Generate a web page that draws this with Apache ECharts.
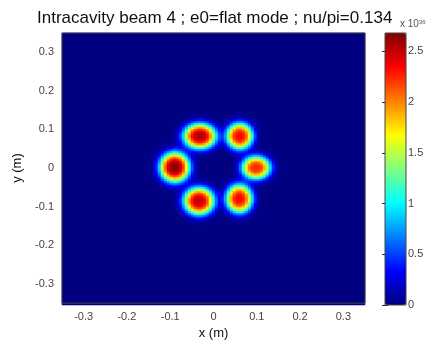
<!DOCTYPE html>
<html>
<head>
<meta charset="utf-8">
<script src="https://cdn.jsdelivr.net/npm/echarts@6/dist/echarts.min.js"></script>
<style>
  html, body { margin: 0; padding: 0; background: #fff; }
  #chart { width: 441px; height: 345px; }
</style>
</head>
<body>
<div id="chart"></div>
<script>
// beam spots: centre (m), peak (x 1e36), width in x and y (m)
const spotX = [-0.031, 0.061, -0.089, 0.099, -0.033, 0.060]
const spotY = [0.085, 0.085, 0.005, 0.004, -0.082, -0.076]
const spotPeak = [2.55, 2.35, 2.65, 2.25, 2.5, 2.35]
const spotSx = [0.027, 0.022, 0.0247, 0.024, 0.0254, 0.022]
const spotSy = [0.0234, 0.0245, 0.0276, 0.0216, 0.0255, 0.0265]
const spotOrder = 1.5 // flat-topped profile

const axisTicks = [-0.3, -0.2, -0.1, 0, 0.1, 0.2, 0.3]
const colorTicks = [0, 0.5, 1, 1.5, 2, 2.5]
const colorMax = 2.68
const jet = ['#000080', '#0000ff', '#0080ff', '#00ffff', '#80ff80', '#ffff00', '#ff8000', '#ff0000', '#800000']

// sample grid (cell counts chosen so cells land on whole pixels)
const NX = 101
const NY = 136
const xCells = []
const yCells = []
for (let i = 0; i < NX; i++) xCells.push((-0.35 + (i + 0.5) * 0.7 / NX).toFixed(4))
for (let j = 0; j < NY; j++) yCells.push((-0.35 + (j + 0.5) * 0.7 / NY).toFixed(4))

const field = []
for (let i = 0; i < NX; i++) {
  for (let j = 0; j < NY; j++) {
    const x = +xCells[i]
    const y = +yCells[j]
    let v = 0
    for (let k = 0; k < spotX.length; k++) {
      const dx = (x - spotX[k]) / spotSx[k]
      const dy = (y - spotY[k]) / spotSy[k]
      v += spotPeak[k] * Math.exp(-Math.pow((dx * dx + dy * dy) / 2, spotOrder))
    }
    field.push([i, j, v])
  }
}

const font = 'Liberation Sans'
const plot = { left: 62, top: 33, width: 303, height: 272 }

function tickLabel(v) {
  const hit = axisTicks.find(t => Math.abs(t - v) < 1e-6)
  return hit === undefined ? '' : String(hit)
}

const chart = echarts.init(document.getElementById('chart'))

chart.setOption({
  animation: false,
  textStyle: { fontFamily: font },
  title: [
    {
      text: 'Intracavity beam 4 ; e0=flat mode ; nu/pi=0.134',
      left: 32,
      top: 5,
      textStyle: { fontSize: 17, fontWeight: 'normal', color: '#111', fontFamily: font },
    },
    {
      text: '{a|x 10}{b|36}',
      left: 395,
      top: 14,
      textStyle: {
        fontFamily: font,
        fontWeight: 'normal',
        rich: {
          a: { fontSize: 10, color: '#555', fontWeight: 'normal', fontFamily: font },
          b: { fontSize: 6, color: '#555', fontWeight: 'normal', verticalAlign: 'top', fontFamily: font },
        },
      },
    },
  ],
  grid: [
    Object.assign({}, plot),
    Object.assign({ show: true, z: 10, borderColor: '#444', borderWidth: 1, backgroundColor: 'transparent' }, plot),
    { left: 385, top: 33, width: 21, height: 272, show: true, z: 10, borderColor: '#444', borderWidth: 1, backgroundColor: 'transparent' },
  ],
  xAxis: [
    { type: 'category', gridIndex: 0, data: xCells, show: false },
    {
      type: 'value',
      gridIndex: 1,
      min: -0.35,
      max: 0.35,
      interval: 0.05,
      splitLine: { show: false },
      axisLine: { show: false },
      axisTick: { show: false },
      axisLabel: { formatter: tickLabel, color: '#444', fontSize: 11, margin: 8 },
      name: 'x (m)',
      nameLocation: 'middle',
      nameGap: 23,
      nameTextStyle: { color: '#111', fontSize: 13 },
    },
    { type: 'value', gridIndex: 2, show: false },
  ],
  yAxis: [
    { type: 'category', gridIndex: 0, data: yCells, show: false },
    {
      type: 'value',
      gridIndex: 1,
      min: -0.35,
      max: 0.35,
      interval: 0.05,
      splitLine: { show: false },
      axisLine: { show: false },
      axisTick: { show: false },
      axisLabel: { formatter: tickLabel, color: '#444', fontSize: 11, margin: 8 },
      name: 'y (m)',
      nameLocation: 'middle',
      nameGap: 30,
      nameTextStyle: { color: '#111', fontSize: 13 },
    },
    {
      type: 'value',
      gridIndex: 2,
      position: 'right',
      min: 0,
      max: colorMax,
      interval: 0.5,
      splitLine: { show: false },
      axisLine: { show: false },
      axisTick: { show: true, inside: true, length: 3, lineStyle: { color: '#222' } },
      axisLabel: {
        showMaxLabel: false,
        color: '#444',
        fontSize: 11,
        margin: 2,
        formatter: v => (colorTicks.indexOf(v) >= 0 ? String(v) : ''),
      },
    },
    {
      type: 'value',
      gridIndex: 2,
      position: 'left',
      min: 0,
      max: colorMax,
      interval: 0.5,
      splitLine: { show: false },
      axisLine: { show: false },
      axisLabel: { show: false },
      axisTick: { show: true, inside: true, length: 3, lineStyle: { color: '#222' } },
    },
  ],
  visualMap: {
    type: 'continuous',
    min: 0,
    max: colorMax,
    seriesIndex: 0,
    left: 385,
    top: 33,
    padding: 0,
    itemWidth: 21,
    itemHeight: 272,
    calculable: false,
    hoverLink: false,
    inRange: { color: jet },
  },
  series: [
    {
      type: 'heatmap',
      xAxisIndex: 0,
      yAxisIndex: 0,
      data: field,
      progressive: 0,
    },
  ],
})
</script>
</body>
</html>
